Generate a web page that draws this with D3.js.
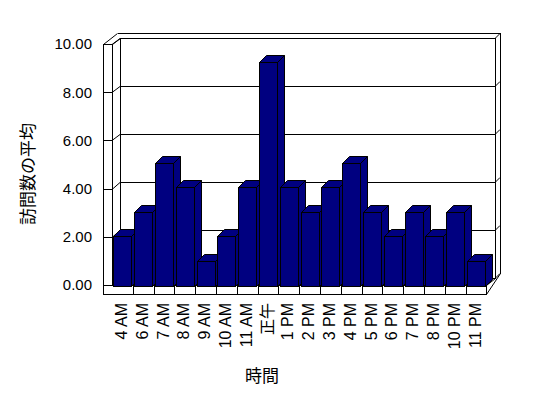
<!DOCTYPE html>
<html><head><meta charset="utf-8">
<script src="https://cdn.jsdelivr.net/npm/d3@7/dist/d3.min.js"></script>
<style>body{margin:0;background:#fff;overflow:hidden}</style>
</head><body>
<svg id="c" width="548" height="398"></svg>
<script>
const categories = ["4 AM","6 AM","7 AM","8 AM","9 AM","10 AM","11 AM","正午","1 PM","2 PM","3 PM","4 PM","5 PM","6 PM","7 PM","8 PM","10 PM","11 PM"];
const values = [2,3,5,4,1,2,4,9.1,4,3,4,5,3,2,3,2,3,1];
const yTicks = [0,2,4,6,8,10];
const yTitle = "訪問数の平均";
const xTitle = "時間";

const svg = d3.select("#c");
const g = svg.append("g").attr("shape-rendering","crispEdges");

// geometry
const leftOuter = 103, plotL = 112, plotR = 486.4;
const backL = 120, backR = 495, backOuterR = 500;
const floorTop = 285, floorBot = 294;

const x = d3.scaleBand().domain(categories).range([plotL, plotR]).paddingInner(0.14).paddingOuter(0.07);
const yFront = d3.scaleLinear().domain([0,10]).range([285,44]);
const yBack = d3.scaleLinear().domain([0,10]).range([278,38]);
const yBar = d3.scaleLinear().domain([0,10]).range([285.5,39.5]);
const barDX = 7, barDY = -7;

function line(x1,y1,x2,y2){
  g.append("line").attr("x1",x1).attr("y1",y1).attr("x2",x2).attr("y2",y2)
   .attr("stroke","#000").attr("stroke-width",1);
}
function dline(x1,y1,x2,y2){
  svg.append("line").attr("x1",x1).attr("y1",y1).attr("x2",x2).attr("y2",y2)
   .attr("stroke","#000").attr("stroke-width",1);
}

// back wall gridlines + left wall ticks
yTicks.forEach(v=>{
  const yf = Math.round(yFront(v))+0.5, yb = Math.round(yBack(v))+0.5;
  line(backL, yb, backR, yb);
  line(leftOuter, yf, plotL, yf);
  dline(plotL, yf, backL, yb);
  dline(backR, yb, backOuterR, yb-5);
});

// wall outlines
line(leftOuter+0.5, 44, leftOuter+0.5, floorBot+0.5);
line(plotL+0.5, 44, plotL+0.5, floorTop);
line(leftOuter, 44.5, plotL, 44.5);
dline(leftOuter+0.5, 44.5, 117.5, 33.5);
dline(plotL+0.5, 44.5, backL+0.5, 38.5);
line(117.5, 33.5, backOuterR+0.5, 33.5);
line(backL+0.5, 38.5, backR+0.5, 38.5);
line(backL+0.5, 38.5, backL+0.5, 278.5);
line(backR+0.5, 38.5, backR+0.5, 278.5);
line(backOuterR+0.5, 33.5, backOuterR+0.5, 273.5);

// floor
line(leftOuter, floorTop+0.5, Math.round(plotR)+0.5, floorTop+0.5);
line(leftOuter, floorBot+0.5, Math.round(plotR)+0.5, floorBot+0.5);
line(Math.round(plotR)+0.5, floorTop+0.5, Math.round(plotR)+0.5, floorBot+0.5);
for (let k=1;k<categories.length;k++){
  const xx = Math.round(plotL + k*x.step())+0.5;
  line(xx, floorTop+0.5, xx, floorBot+0.5);
}
dline(Math.round(plotR)+0.5, floorTop+0.5, backR+0.5, 278.5);
dline(Math.round(plotR)+0.5, floorBot+0.5, backOuterR+0.5, 273.5);

// bars
const navy = "#000080";
const bars = svg.append("g");
categories.forEach((c,i)=>{
  const x0 = Math.round(x(c))+0.5, x1 = Math.round(x(c)+x.bandwidth())+0.5;
  const yt = Math.round(yBar(values[i]))+0.5, yb = Math.round(yBar(0))+0.5;
  const b = bars.append("g");
  b.append("polygon").attr("points",[[x1,yb],[x1+barDX,yb+barDY],[x1+barDX,yt+barDY],[x1,yt]].join(" "))
    .attr("fill",navy).attr("stroke","#000");
  b.append("polygon").attr("points",[[x0,yt],[x0+barDX,yt+barDY],[x1+barDX,yt+barDY],[x1,yt]].join(" "))
    .attr("fill",navy).attr("stroke","#000");
  b.append("rect").attr("x",x0).attr("y",yt).attr("width",x1-x0).attr("height",yb-yt)
    .attr("fill",navy).attr("stroke","#000").attr("shape-rendering","crispEdges");
});

// y tick labels
const latin = "'Liberation Sans', Arial, sans-serif";
svg.append("g").selectAll("text").data(yTicks).join("text")
  .attr("x",92).attr("y",d=>yFront(d)).attr("dy","0.36em")
  .attr("text-anchor","end").attr("font-family",latin).attr("font-size",15)
  .attr("fill","#000").text(d=>d.toFixed(2));

// x tick labels
svg.append("g").selectAll("text").data(categories).join("text")
  .attr("transform",d=>`translate(${x(d)+x.bandwidth()/2+4.5},303) rotate(-90)`)
  .attr("text-anchor","end").attr("font-family",latin+", 'Noto Sans CJK JP'").attr("font-size",16)
  .attr("fill","#000").text(d=>d);

// axis titles
const cjk = "'Noto Sans CJK JP', sans-serif";
svg.append("text").attr("transform","translate(34,174) rotate(-90)")
  .attr("text-anchor","middle").attr("font-family",cjk).attr("font-size",17)
  .attr("fill","#000").text(yTitle);
svg.append("text").attr("x",262).attr("y",382)
  .attr("text-anchor","middle").attr("font-family",cjk).attr("font-size",17)
  .attr("fill","#000").text(xTitle);
</script>
</body></html>
